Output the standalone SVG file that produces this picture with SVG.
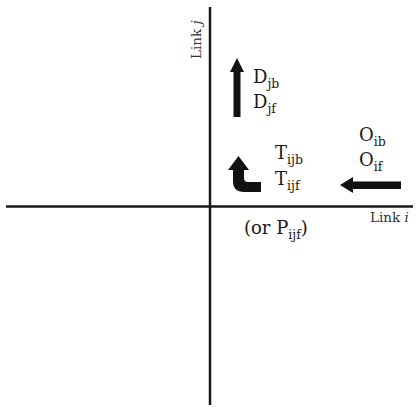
<svg xmlns="http://www.w3.org/2000/svg" width="418" height="407" viewBox="0 0 418 407">
<style>
.ax{stroke:#1a1a1a;stroke-width:2.5;fill:none}
.t{font-family:"DejaVu Serif","Liberation Serif",serif;font-size:18px;fill:#1a1a1a}
.s{font-size:12.5px}
.lb{font-family:"DejaVu Serif","Liberation Serif",serif;font-size:13.5px;fill:#333}
.ar{fill:#111}
</style>
<rect width="418" height="407" fill="#fff"/>
<g id="connectors">
<line class="ax" x1="6" y1="206.5" x2="413" y2="206.5"/>
<line class="ax" x1="210" y1="7" x2="210" y2="405"/>
</g>
<g id="arrow-up">
<path class="ar" d="M237,58 L244,72 L240.5,72 L240.5,117 L233.5,117 L233.5,72 L230,72 Z"/>
</g>
<g id="arrow-turn">
<path class="ar" d="M238.5,156 L249,170 L244,170 L244,178 Q244,182 248,182 L261,182 L261,192 L244,192 Q233,192 233,181 L233,170 L228,170 Z"/>
</g>
<g id="arrow-left">
<path class="ar" d="M340,185 L353,177 L353,181.5 L401,181.5 L401,189 L353,189 L353,193 Z"/>
</g>
<g id="label-D">
<text class="t" x="253" y="83">D<tspan class="s" dy="5">jb</tspan></text>
<text class="t" x="253" y="108">D<tspan class="s" dy="5">jf</tspan></text>
</g>
<g id="label-T">
<text class="t" x="275" y="159">T<tspan class="s" dy="5">ijb</tspan></text>
<text class="t" x="275" y="185">T<tspan class="s" dy="5">ijf</tspan></text>
</g>
<g id="label-O">
<text class="t" x="359" y="141">O<tspan class="s" dy="5">ib</tspan></text>
<text class="t" x="359" y="166">O<tspan class="s" dy="5">if</tspan></text>
</g>
<g id="label-P">
<text class="t" x="244" y="234">(or P<tspan class="s" dy="5">ijf</tspan><tspan dy="-5">)</tspan></text>
</g>
<g id="axis-labels">
<text class="lb" x="370" y="222">Link <tspan font-style="italic">i</tspan></text>
<text class="lb" transform="translate(201,59) rotate(-90)">Link <tspan font-style="italic">j</tspan></text>
</g>
</svg>
